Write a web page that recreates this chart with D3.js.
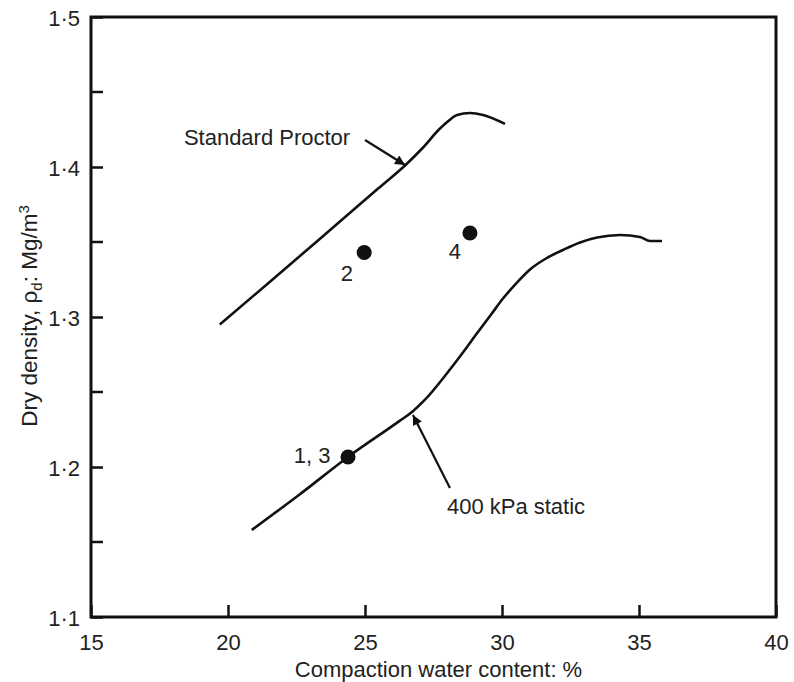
<!DOCTYPE html>
<html>
<head>
<meta charset="utf-8">
<script src="https://cdn.jsdelivr.net/npm/d3@7"></script>
<style>
  body { margin: 0; background: #fff; }
  text { font-family: "Liberation Sans", Arial, sans-serif; fill: #222; }
</style>
</head>
<body>
<div id="graph"></div>
<script>
// water content (%) vs dry density (Mg/m3)
const standardProctor = [
  [19.7, 1.295], [21.5, 1.323], [23.6, 1.356], [25.5, 1.386], [26.46, 1.401],
  [27.12, 1.413], [27.7, 1.425], [28.0, 1.430], [28.36, 1.4347], [28.83, 1.436],
  [29.31, 1.4347], [30.11, 1.4287]
];
const static400 = [
  [20.865, 1.158], [22.6, 1.1815], [24.38, 1.2067], [26.277, 1.2309], [26.715, 1.2367],
  [27.19, 1.2449], [27.993, 1.2625], [28.54, 1.2755], [29.088, 1.2891], [29.635, 1.3025],
  [30.036, 1.3123], [30.511, 1.3223], [31.022, 1.3317], [31.606, 1.339], [32.226, 1.3447],
  [32.847, 1.3497], [33.467, 1.353], [34.307, 1.3547], [35.036, 1.3533], [35.401, 1.3507],
  [35.839, 1.3507]
];
const samples = [
  { label: "1, 3", w: 24.38, rho: 1.2067 },
  { label: "2", w: 24.97, rho: 1.343 },
  { label: "4", w: 28.83, rho: 1.356 }
];
// text annotations: [x, y] in data units (baseline)
const notes = [
  { text: "2", x: 24.34, y: 1.324, anchor: "middle" },
  { text: "4", x: 28.28, y: 1.3387, anchor: "middle" },
  { text: "1, 3", x: 23.07, y: 1.2027, anchor: "middle" },
  { text: "Standard Proctor", x: 18.39, y: 1.4147, anchor: "start" },
  { text: "400 kPa static", x: 27.99, y: 1.1687, anchor: "start" }
];
const arrows = [
  { from: [25.0, 1.418], to: [26.46, 1.4013] },
  { from: [28.10, 1.186], to: [26.75, 1.2347] }
];
const xTicks = [15, 20, 25, 30, 35, 40];
const yTicks = [1.1, 1.2, 1.3, 1.4, 1.5];
const yMinor = [1.15, 1.25, 1.35, 1.45];

const width = 794, height = 682;
const margin = { top: 17, right: 18, bottom: 65, left: 91 };

const svg = d3.select("#graph").append("svg")
  .attr("width", width)
  .attr("height", height);

const x = d3.scaleLinear().domain([15, 40]).range([margin.left, width - margin.right]);
const y = d3.scaleLinear().domain([1.1, 1.5]).range([height - margin.bottom, margin.top]);

svg.append("defs").append("marker")
  .attr("id", "head")
  .attr("viewBox", "0 0 10 10")
  .attr("refX", 10).attr("refY", 5)
  .attr("markerWidth", 8).attr("markerHeight", 4.5)
  .attr("markerUnits", "strokeWidth")
  .attr("orient", "auto")
  .append("path").attr("d", "M0,0L10,5L0,10z").attr("fill", "#111");

// x axis, ticks inside
const xAxis = svg.append("g")
  .attr("transform", `translate(0,${y(1.1)})`)
  .call(d3.axisBottom(x).tickValues(xTicks).tickSize(-12).tickPadding(17).tickFormat(d3.format("d")));
xAxis.select(".domain").remove();
xAxis.selectAll("line").attr("stroke", "#111").attr("stroke-width", 2.5);
xAxis.selectAll("text").style("font-size", "22px").attr("fill", "#222");

// y axis, ticks inside
const yAxis = svg.append("g")
  .attr("transform", `translate(${x(15)},0)`)
  .call(d3.axisLeft(y).tickValues(yTicks).tickSize(-12).tickPadding(11)
    .tickFormat(d => d.toFixed(1).replace(".", "·")));
yAxis.select(".domain").remove();
yAxis.selectAll("line").attr("stroke", "#111").attr("stroke-width", 2.5);
yAxis.selectAll("text").style("font-size", "22px").attr("fill", "#222").attr("dy", "0.4em");

svg.append("g").selectAll("line")
  .data(yMinor)
  .join("line")
  .attr("x1", x(15)).attr("x2", x(15) + 12)
  .attr("y1", d => y(d)).attr("y2", d => y(d))
  .attr("stroke", "#111").attr("stroke-width", 2.5);

// frame
svg.append("rect")
  .attr("x", x(15)).attr("y", y(1.5))
  .attr("width", x(40) - x(15)).attr("height", y(1.1) - y(1.5))
  .attr("fill", "none").attr("stroke", "#111").attr("stroke-width", 3);

const line = d3.line()
  .x(d => x(d[0]))
  .y(d => y(d[1]))
  .curve(d3.curveMonotoneX);

[standardProctor, static400].forEach(s => {
  svg.append("path")
    .datum(s)
    .attr("d", line)
    .attr("fill", "none")
    .attr("stroke", "#111")
    .attr("stroke-width", 2.6);
});

svg.append("g").selectAll("circle")
  .data(samples)
  .join("circle")
  .attr("cx", d => x(d.w))
  .attr("cy", d => y(d.rho))
  .attr("r", 7.5)
  .attr("fill", "#111");

svg.append("g").selectAll("line")
  .data(arrows)
  .join("line")
  .attr("x1", d => x(d.from[0])).attr("y1", d => y(d.from[1]))
  .attr("x2", d => x(d.to[0])).attr("y2", d => y(d.to[1]))
  .attr("stroke", "#111").attr("stroke-width", 2.2)
  .attr("marker-end", "url(#head)");

svg.append("g").selectAll("text")
  .data(notes)
  .join("text")
  .attr("x", d => x(d.x))
  .attr("y", d => y(d.y))
  .attr("text-anchor", d => d.anchor)
  .style("font-size", "22px")
  .text(d => d.text);

// axis titles
svg.append("text")
  .attr("x", (x(15) + x(40)) / 2 + 5)
  .attr("y", 677)
  .attr("text-anchor", "middle")
  .style("font-size", "22px")
  .text("Compaction water content: %");

const yTitle = svg.append("text")
  .attr("transform", "translate(37,316) rotate(-90)")
  .attr("text-anchor", "middle")
  .style("font-size", "22.5px");
yTitle.append("tspan").text("Dry density, ρ");
yTitle.append("tspan").attr("dy", 5).style("font-size", "15px").text("d");
yTitle.append("tspan").attr("dy", -5).text(": Mg/m");
yTitle.append("tspan").attr("dy", -8).style("font-size", "15px").text("3");
</script>
</body>
</html>
